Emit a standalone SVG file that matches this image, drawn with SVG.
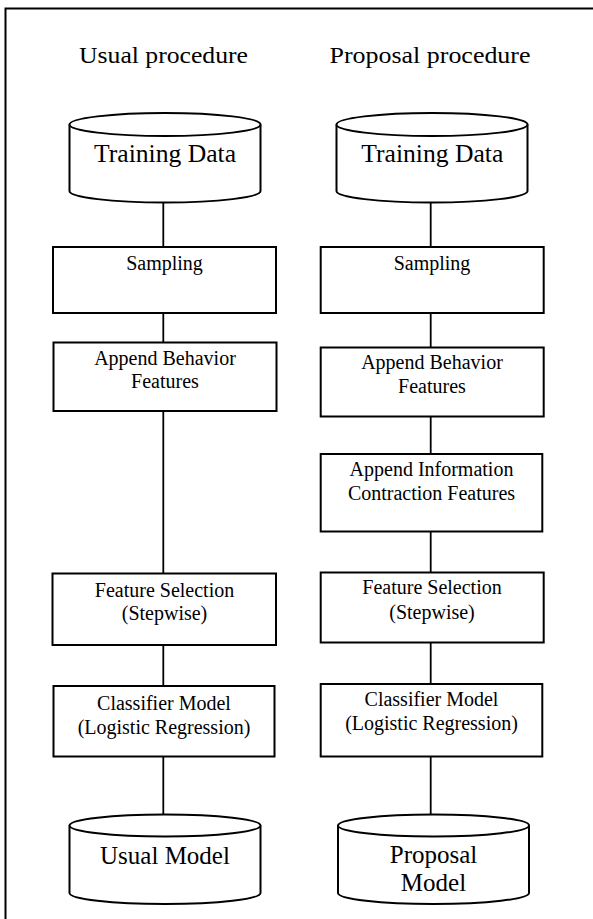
<svg xmlns="http://www.w3.org/2000/svg" width="593" height="919" viewBox="0 0 593 919">
<style>
.b{fill:#fff;stroke:#000;stroke-width:2}
.c{fill:#fff;stroke:#000;stroke-width:2}
.l{stroke:#000;stroke-width:1.8;fill:none}
text{font-family:"Liberation Serif","Times New Roman",serif;fill:#000;text-anchor:middle}
.t{font-size:24px}
.s{font-size:20px}
.d{font-size:25px}
</style>
<defs>
<clipPath id="pmclip"><rect x="330" y="800" width="210" height="91"/></clipPath>
</defs>
<rect width="593" height="919" fill="#fff"/>
<path d="M5.5,919 V8.5 H593" fill="none" stroke="#000" stroke-width="2"/>
<text class="t" x="163.5" y="63" textLength="169" lengthAdjust="spacingAndGlyphs">Usual procedure</text>
<text class="t" x="430" y="63" textLength="201" lengthAdjust="spacingAndGlyphs">Proposal procedure</text>
<g id="connectors">
<line class="l" x1="163.3" y1="200" x2="163.3" y2="247"/>
<line class="l" x1="163.3" y1="313" x2="163.3" y2="342"/>
<line class="l" x1="163.3" y1="411" x2="163.3" y2="573"/>
<line class="l" x1="163.3" y1="645" x2="163.3" y2="686"/>
<line class="l" x1="163.3" y1="757" x2="163.3" y2="815"/>
<line class="l" x1="430.7" y1="200" x2="430.7" y2="247"/>
<line class="l" x1="430.7" y1="313" x2="430.7" y2="347"/>
<line class="l" x1="430.7" y1="417" x2="430.7" y2="454"/>
<line class="l" x1="430.7" y1="532" x2="430.7" y2="572"/>
<line class="l" x1="430.7" y1="643" x2="430.7" y2="684"/>
<line class="l" x1="430.7" y1="757" x2="430.7" y2="815"/>
</g>
<g id="u-train">
<path class="c" d="M69.5,124.5 V191 A95.5,11.5 0 0 0 260.5,191 V124.5"/>
<ellipse class="c" cx="165" cy="124.5" rx="95.5" ry="11.5"/>
<text class="d" x="165" y="162" textLength="142" lengthAdjust="spacingAndGlyphs">Training Data</text>
</g>
<g id="u-sampling">
<rect class="b" x="53" y="247" width="223" height="66"/>
<text class="s" x="164.5" y="270">Sampling</text>
</g>
<g id="u-behavior">
<rect class="b" x="53.5" y="342.5" width="223" height="68.5"/>
<text class="s" x="165" y="364.5">Append Behavior</text>
<text class="s" x="165" y="388">Features</text>
</g>
<g id="u-featsel">
<rect class="b" x="52.5" y="573.5" width="223.5" height="71.5"/>
<text class="s" x="164.5" y="597">Feature Selection</text>
<text class="s" x="164.5" y="620">(Stepwise)</text>
</g>
<g id="u-classifier">
<rect class="b" x="53.5" y="686" width="221" height="70.5"/>
<text class="s" x="164" y="709.5">Classifier Model</text>
<text class="s" x="164" y="733.5">(Logistic Regression)</text>
</g>
<g id="u-model">
<path class="c" d="M69.5,825.5 V893 A95.5,11 0 0 0 260.5,893 V825.5"/>
<ellipse class="c" cx="165" cy="825.5" rx="95.5" ry="11"/>
<text class="d" x="165" y="863.5">Usual Model</text>
</g>
<g id="p-train">
<path class="c" d="M336.5,124.5 V191 A95.5,11.5 0 0 0 527.5,191 V124.5"/>
<ellipse class="c" cx="432" cy="124.5" rx="95.5" ry="11.5"/>
<text class="d" x="432.3" y="162" textLength="142" lengthAdjust="spacingAndGlyphs">Training Data</text>
</g>
<g id="p-sampling">
<rect class="b" x="320.7" y="247" width="223" height="66"/>
<text class="s" x="432" y="270">Sampling</text>
</g>
<g id="p-behavior">
<rect class="b" x="320.7" y="347.5" width="223" height="69"/>
<text class="s" x="432" y="368.5">Append Behavior</text>
<text class="s" x="432" y="392.5">Features</text>
</g>
<g id="p-info">
<rect class="b" x="320.7" y="454" width="221.6" height="77.5"/>
<text class="s" x="431.5" y="476">Append Information</text>
<text class="s" x="431.5" y="499.5">Contraction Features</text>
</g>
<g id="p-featsel">
<rect class="b" x="320.7" y="572.5" width="223" height="70"/>
<text class="s" x="432" y="594">Feature Selection</text>
<text class="s" x="432" y="618.5">(Stepwise)</text>
</g>
<g id="p-classifier">
<rect class="b" x="320.7" y="684" width="221.6" height="72.5"/>
<text class="s" x="431.5" y="705.5">Classifier Model</text>
<text class="s" x="431.5" y="729.5">(Logistic Regression)</text>
</g>
<g id="p-model">
<path class="c" d="M338,825.5 V893 A95.5,11 0 0 0 529,893 V825.5"/>
<ellipse class="c" cx="433.5" cy="825.5" rx="95.5" ry="11"/>
<g clip-path="url(#pmclip)">
<text class="d" x="433.5" y="863">Proposal</text>
<text class="d" x="433.5" y="891">Model</text>
</g>
</g>
</svg>
